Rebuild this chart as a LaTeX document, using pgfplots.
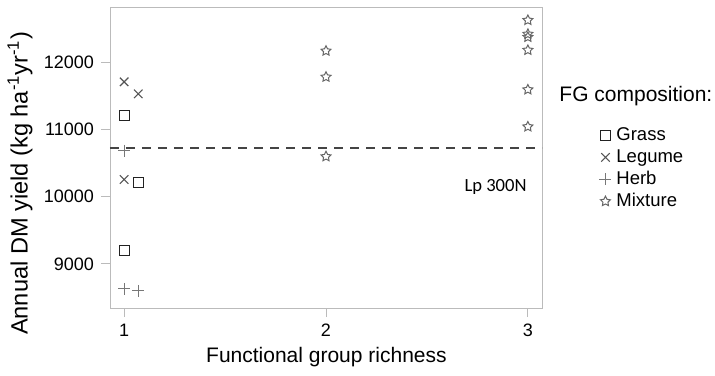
\documentclass[border=0pt]{standalone}
\usepackage{fontspec}
\setmainfont{Liberation Sans}
\newfontfamily\calfont{Carlito}
\usepackage{pgfplots}
\pgfplotsset{compat=1.18}
\definecolor{framegray}{HTML}{BBBBBB}
\definecolor{sqcol}{HTML}{222222}
\definecolor{xcol}{HTML}{555555}
\definecolor{pcol}{HTML}{777777}
\definecolor{stcol}{HTML}{666666}
\definecolor{dashcol}{HTML}{444444}
\pgfplotsset{mylegimg/.style={legend image code/.code={\draw[mark repeat=2,mark phase=2,##1] plot coordinates {(0pt,0pt) (4pt,0pt) (8pt,0pt)};}}}
\pgfdeclareplotmark{ostar}{%
  \pgfpathmoveto{\pgfpointpolar{90}{\pgfplotmarksize}}%
  \pgfpathlineto{\pgfpointpolar{126}{0.5\pgfplotmarksize}}%
  \pgfpathlineto{\pgfpointpolar{162}{\pgfplotmarksize}}%
  \pgfpathlineto{\pgfpointpolar{198}{0.5\pgfplotmarksize}}%
  \pgfpathlineto{\pgfpointpolar{234}{\pgfplotmarksize}}%
  \pgfpathlineto{\pgfpointpolar{270}{0.5\pgfplotmarksize}}%
  \pgfpathlineto{\pgfpointpolar{306}{\pgfplotmarksize}}%
  \pgfpathlineto{\pgfpointpolar{342}{0.5\pgfplotmarksize}}%
  \pgfpathlineto{\pgfpointpolar{18}{\pgfplotmarksize}}%
  \pgfpathlineto{\pgfpointpolar{54}{0.5\pgfplotmarksize}}%
  \pgfpathclose\pgfusepathqstroke}
\begin{document}
\begin{tikzpicture}
\path[use as bounding box] (-55pt,-33.5pt) rectangle (302.5pt,154pt);
\begin{axis}[
  at={(0pt,0pt)}, anchor=south west,
  scale only axis,
  width=216pt, height=150.5pt,
  xmin=0.93, xmax=3.07,
  ymin=8346, ymax=12817,
  xtick={1,2,3},
  ytick={9000,10000,11000,12000},
  scaled y ticks=false,
  tick pos=left,
  tick align=outside,
  major tick length=4.5pt,
  axis line style={framegray},
  tick style={framegray, line width=0.5pt},
  /pgf/number format/assume math mode=true,
  /pgf/number format/set thousands separator={},
  ticklabel style={font=\fontsize{9}{10.8}\selectfont, text=black},
  xlabel={Functional group richness},
  ylabel={Annual DM yield (kg ha\textsuperscript{-1}yr\textsuperscript{-1})},
  xlabel style={font=\fontsize{10.5}{12.6}\selectfont, at={(axis description cs:0.501,-0.1827)}, anchor=base},
  ylabel style={font=\fontsize{11.8}{14}\selectfont, at={(axis description cs:-0.2083,0.4136)}, anchor=center},
  clip=false,
  legend style={
    at={(axis description cs:1.132,0.6047)}, anchor=north west,
    draw=none, fill=none, inner sep=0pt, row sep=2pt, column sep=2.5pt,
    font=\fontsize{9.25}{11}\selectfont,
    nodes={inner sep=0pt, text height=7pt, text depth=2pt},
  },
  legend cell align=left,
]
\addplot[only marks, mark=square, mark size=2.5pt, color=sqcol, line width=0.55pt, mylegimg]
  coordinates {(1,11200) (1.07,10210) (1,9205)};
\addlegendentry{Grass}
\addplot[only marks, mark=x, mark size=3pt, color=xcol, line width=0.55pt, mylegimg]
  coordinates {(1,11705) (1.07,11527) (1,10255)};
\addlegendentry{Legume}
\addplot[only marks, mark=+, mark size=3pt, color=pcol, line width=0.55pt, mylegimg]
  coordinates {(1,10685) (1,8630) (1.07,8600)};
\addlegendentry{Herb}
\addplot[only marks, mark=ostar, mark size=2.6pt, color=stcol, line width=0.5pt, mylegimg]
  coordinates {(2,12165) (2,11778) (2,10596) (3,12621) (3,12415) (3,12370) (3,12177) (3,11590) (3,11040)};
\addlegendentry{Mixture}
\addplot[dashcol, line width=1pt, dash pattern=on 4.5pt off 3.5pt, forget plot]
  coordinates {(0.93,10730) (3.07,10730)};
\node[anchor=base, font=\calfont\fontsize{9.3}{11}\selectfont] at (axis cs:2.84,10080) {Lp 300N};
\node[anchor=base west, font=\fontsize{10.5}{12.6}\selectfont, inner sep=0pt] at (axis description cs:1.0394,0.6877) {FG composition:};
\end{axis}
\end{tikzpicture}
\end{document}
